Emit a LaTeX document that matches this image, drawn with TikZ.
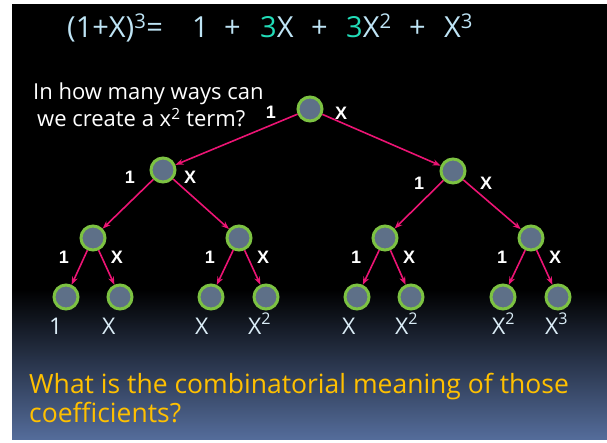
\documentclass[tikz,border=0pt]{standalone}
\usepackage{fontspec}
\setmainfont{Open Sans}
\newfontfamily\boldlab{Liberation Sans}
\usetikzlibrary{arrows.meta}
\definecolor{slideblue}{RGB}{84,108,154}
\definecolor{titleblue}{RGB}{190,228,245}
\definecolor{teal3}{RGB}{34,220,184}
\definecolor{nodefill}{RGB}{94,112,136}
\definecolor{nodeedge}{RGB}{124,194,66}
\definecolor{arrowpink}{RGB}{236,20,116}
\definecolor{leafcol}{RGB}{218,236,246}
\definecolor{qyellow}{RGB}{255,192,0}
\tikzset{
  tnode/.style={circle,fill=nodefill,draw=nodeedge,line width=3pt,minimum size=24pt,inner sep=0pt},
  tedge/.style={draw=arrowpink,line width=1.6pt,-{Stealth[length=8pt,width=6pt]}},
  elab/.style={text=white,font=\boldlab\bfseries\fontsize{18}{18}\selectfont,inner sep=0pt},
  leaf/.style={text=leafcol,font=\fontsize{23}{23}\selectfont,inner sep=0pt,anchor=base west},
  ttl/.style={text=titleblue,font=\fontsize{29}{29}\selectfont,inner sep=0pt,anchor=base west},
  qtext/.style={text=white,font=\fontsize{22}{22}\selectfont,inner sep=0pt,anchor=base west},
  btext/.style={text=qyellow,font=\fontsize{26.5}{26.5}\selectfont,inner sep=0pt,anchor=base west}
}
\begin{document}
\begin{tikzpicture}[x=1pt,y=-1pt]
\useasboundingbox (0,0) rectangle (607,443);
\fill[white] (0,0) rectangle (607,443);
\fill[black] (12,4) rectangle (607,290);
\shade[top color=black,bottom color=slideblue] (12,289.5) rectangle (607,439);
% title
\node[ttl] (t1) at (67,38) {(1+X)\textsuperscript{3}=};
\node[ttl] (t2) at (192,38) {1};
\node[ttl] (t3) at (224,38) {+};
\node[ttl] (t4) at (260,38) {\textcolor{teal3}{3}X};
\node[ttl] (t5) at (311,38) {+};
\node[ttl] (t6) at (346,38) {\textcolor{teal3}{3}X\textsuperscript{2}};
\node[ttl] (t7) at (409,38) {+};
\node[ttl] (t8) at (444,38) {X\textsuperscript{3}};
% question
\node[qtext] (q1) at (33,100) {In how many ways can};
\node[qtext] (q2) at (37,127) {we create a x\textsuperscript{2} term?};
% tree nodes
\node[tnode] (r) at (310,109) {};
\node[tnode] (a) at (163,170) {};
\node[tnode] (b) at (453,171) {};
\node[tnode] (aa) at (93,238) {};
\node[tnode] (ab) at (239,238) {};
\node[tnode] (ba) at (385,238) {};
\node[tnode] (bb) at (531,238) {};
\node[tnode] (l1) at (66,297) {};
\node[tnode] (l2) at (120,297) {};
\node[tnode] (l3) at (211,297) {};
\node[tnode] (l4) at (266,297) {};
\node[tnode] (l5) at (357,297) {};
\node[tnode] (l6) at (411,297) {};
\node[tnode] (l7) at (503,297) {};
\node[tnode] (l8) at (558,297) {};
% edges
\draw[tedge] (r) -- (a);
\draw[tedge] (r) -- (b);
\draw[tedge] (a) -- (aa);
\draw[tedge] (a) -- (ab);
\draw[tedge] (b) -- (ba);
\draw[tedge] (b) -- (bb);
\draw[tedge] (aa) -- (l1);
\draw[tedge] (aa) -- (l2);
\draw[tedge] (ab) -- (l3);
\draw[tedge] (ab) -- (l4);
\draw[tedge] (ba) -- (l5);
\draw[tedge] (ba) -- (l6);
\draw[tedge] (bb) -- (l7);
\draw[tedge] (bb) -- (l8);
% edge labels
\node[elab] (er1) at (271,112) {1};
\node[elab] (erx) at (341,113) {X};
\node[elab] (ea1) at (130,177) {1};
\node[elab] (eax) at (190,177) {X};
\node[elab] (eb1) at (419,183) {1};
\node[elab] (ebx) at (486,183) {X};
\node[elab] (e11) at (64,257) {1};
\node[elab] (e1x) at (117,257) {X};
\node[elab] (e21) at (210,257) {1};
\node[elab] (e2x) at (263,257) {X};
\node[elab] (e31) at (356,257) {1};
\node[elab] (e3x) at (409,257) {X};
\node[elab] (e41) at (502,257) {1};
\node[elab] (e4x) at (555,257) {X};
% leaf labels
\node[leaf] (p1) at (49,334) {1};
\node[leaf] (p2) at (102,334) {X};
\node[leaf] (p3) at (195,334) {X};
\node[leaf] (p4) at (248,334) {X\textsuperscript{2}};
\node[leaf] (p5) at (342,334) {X};
\node[leaf] (p6) at (395,334) {X\textsuperscript{2}};
\node[leaf] (p7) at (492,334) {X\textsuperscript{2}};
\node[leaf] (p8) at (545,334) {X\textsuperscript{3}};
% bottom question
\node[btext] (b1) at (29,393) {What is the combinatorial meaning of those};
\node[btext] (b2) at (29,422) {coefficients?};
\end{tikzpicture}
\end{document}
